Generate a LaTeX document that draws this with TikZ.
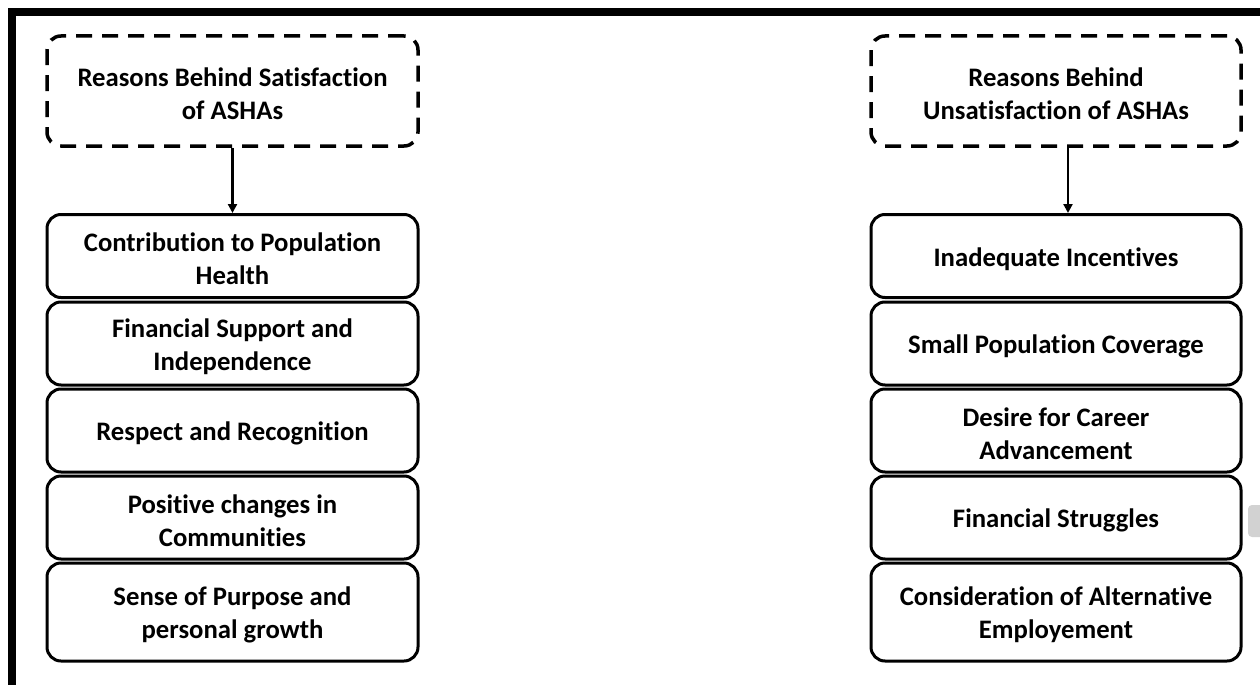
\documentclass[tikz,border=0pt]{standalone}
\usepackage{fontspec}
\setmainfont[Ligatures=NoCommon]{Carlito}
\usetikzlibrary{arrows.meta}
\begin{document}
\begin{tikzpicture}[x=1pt,y=-1pt,
  reason/.style={draw=black, line width=3pt, rounded corners=14pt, fill=white, inner sep=0pt},
  head/.style={reason, dashed, dash pattern=on 16pt off 10pt, line width=3.5pt},
  txt/.style={align=center, inner sep=0pt, yshift=-3pt, font=\fontsize{26.7}{32.6}\selectfont\bfseries},
  conn/.style={line width=2.2pt, -{Triangle[length=9pt,width=9pt]}}]
\useasboundingbox (0,0) rectangle (1260,685);
\fill[white] (0,0) rectangle (1260,685);
% frame
\fill[black] (8,8) rectangle (1260,16);
\fill[black] (8,8) rectangle (16,685);
% side artifact
\fill[gray!35, rounded corners=4pt] (1248,505) rectangle (1270,537);
% left column
\node[head, minimum width=371pt, minimum height=110pt] (L0) at (232.5,91) {};
\node[txt] (L0t) at (L0.center) {Reasons Behind Satisfaction\\of ASHAs};
\node[reason, minimum width=371pt, minimum height=83pt] (L1) at (232.5,256) {};
\node[txt] (L1t) at (L1.center) {Contribution to Population\\Health};
\node[reason, minimum width=371pt, minimum height=83pt] (L2) at (232.5,343.5) {};
\node[txt] (L2t) at (L2.center) {Financial Support and\\Independence};
\node[reason, minimum width=371pt, minimum height=83pt] (L3) at (232.5,430.5) {};
\node[txt] (L3t) at (L3.center) {Respect and Recognition};
\node[reason, minimum width=371pt, minimum height=83pt] (L4) at (232.5,517.5) {};
\node[txt] (L4t) at (L4.center) {Positive changes in\\Communities};
\node[reason, minimum width=371pt, minimum height=98pt] (L5) at (232.5,612) {};
\node[txt] (L5t) at (L5.center) {Sense of Purpose and\\personal growth};
% right column
\node[head, minimum width=370pt, minimum height=110pt] (R0) at (1056,91) {};
\node[txt] (R0t) at (R0.center) {Reasons Behind\\Unsatisfaction of ASHAs};
\node[reason, minimum width=370pt, minimum height=83pt] (R1) at (1056,256) {};
\node[txt] (R1t) at (R1.center) {Inadequate Incentives};
\node[reason, minimum width=370pt, minimum height=83pt] (R2) at (1056,343.5) {};
\node[txt] (R2t) at (R2.center) {Small Population Coverage};
\node[reason, minimum width=370pt, minimum height=83pt] (R3) at (1056,430.5) {};
\node[txt] (R3t) at (R3.center) {Desire for Career\\Advancement};
\node[reason, minimum width=370pt, minimum height=83pt] (R4) at (1056,517.5) {};
\node[txt] (R4t) at (R4.center) {Financial Struggles};
\node[reason, minimum width=370pt, minimum height=98pt] (R5) at (1056,612) {};
\node[txt] (R5t) at (R5.center) {Consideration of Alternative\\Employement};
% arrows
\draw[conn] (L0.south) -- (L1.north);
\draw[conn] (R0.south -| 1068,0) -- (R1.north -| 1068,0);
\end{tikzpicture}
\end{document}
